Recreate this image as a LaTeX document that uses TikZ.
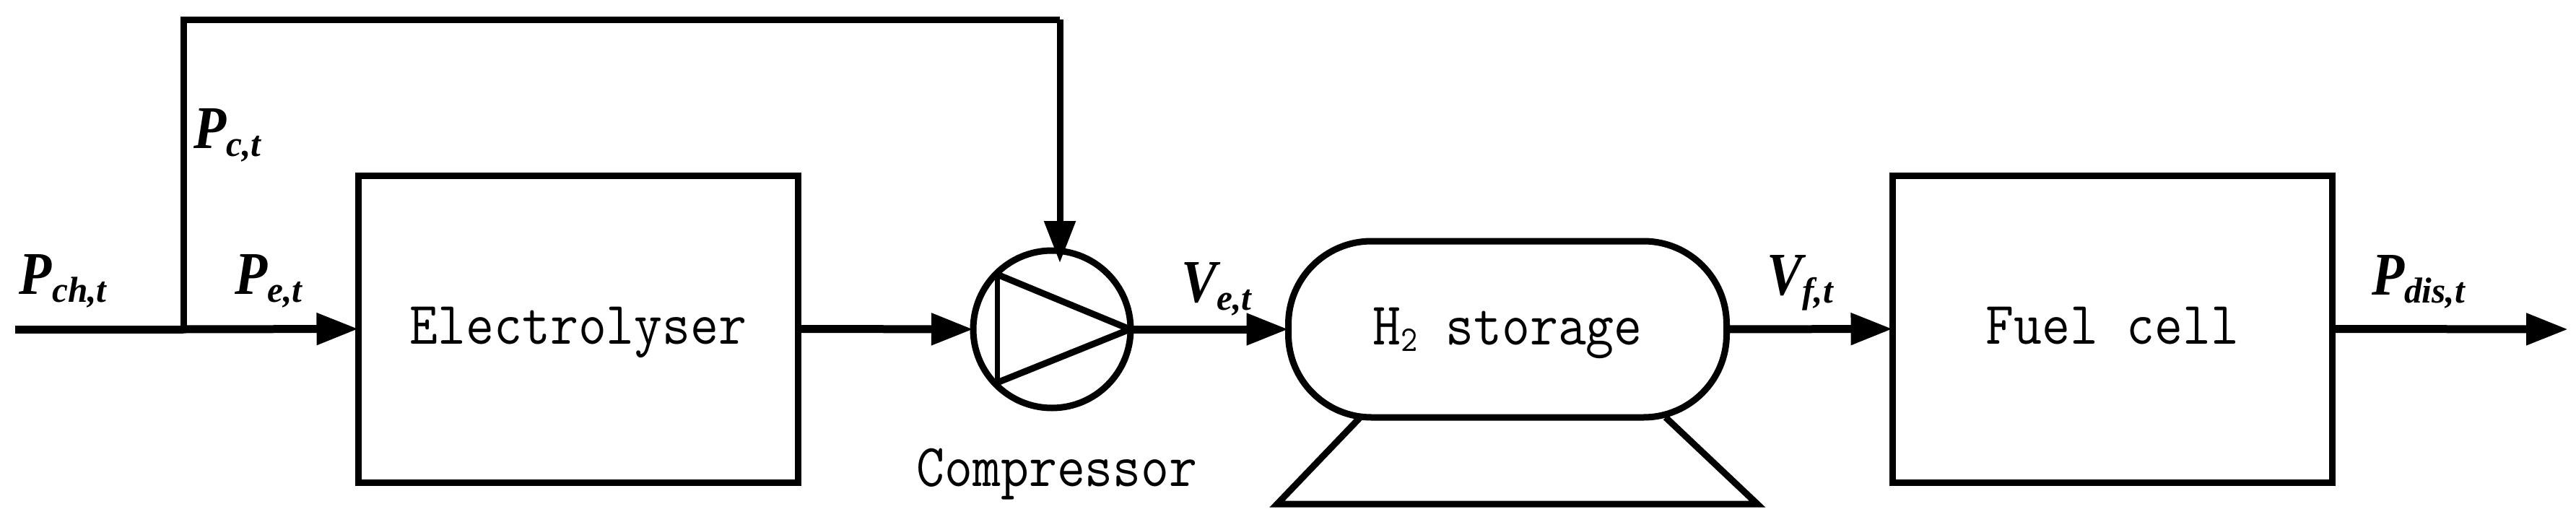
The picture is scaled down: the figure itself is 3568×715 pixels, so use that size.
\documentclass[tikz,border=0pt]{standalone}
\usepackage{fontspec}
\usepackage{graphicx}
\usetikzlibrary{arrows.meta}
\newfontfamily\symfont{Liberation Serif}
\newcommand{\monotext}[1]{\scalebox{0.90}[1]{\fontsize{84}{84}\selectfont\ttfamily #1}}
\newcommand{\flowlbl}[2]{\scalebox{0.88}[1]{\symfont\bfseries\itshape\fontsize{84}{84}\selectfont #1\raisebox{-11pt}{\scalebox{1.12}[1]{\fontsize{50}{50}\selectfont #2}}}}
\tikzset{
  x=1pt,y=-1pt,
  block/.style={draw,line width=9pt,outer sep=0pt,inner sep=0pt,minimum width=609pt,minimum height=425pt,text height=60pt,text depth=18pt,align=center},
  tank/.style={draw,line width=9pt,outer sep=0pt,inner sep=0pt,minimum width=607pt,minimum height=244pt,rounded corners=115pt,text height=60pt,text depth=18pt},
  pump/.style={draw,circle,line width=9pt,outer sep=0pt,inner sep=0pt,minimum size=218pt},
  flow/.style={line width=11pt,-{Triangle[length=58pt,width=42pt]}},
  wire/.style={line width=9pt},
  pipe/.style={line width=9pt,line join=miter},
  lbl/.style={anchor=base west,inner sep=0pt,outer sep=0pt},
  captext/.style={anchor=base,inner sep=0pt,outer sep=0pt}
}
\begin{document}
\begin{tikzpicture}
\useasboundingbox (0,0) rectangle (3568,715);
\fill[white] (0,0) rectangle (3568,715);
\node[block] (elec) at (801,455.5) {\monotext{Electrolyser}};
\node[block] (fuel) at (2926,455.5) {\monotext{Fuel cell}};
\node[tank] (stor) at (2088,456) {\monotext{H\raisebox{-9pt}{\fontsize{50}{50}\selectfont 2} storage}};
\node[pump] (comp) at (1457,456) {};
\node[captext] (complbl) at (1464,673) {\monotext{Compressor}};
\coordinate (src) at (21,456);
\coordinate (jun) at (254,456);
\coordinate (cup) at (254,27);
\coordinate (cdn) at (1468,27);
\coordinate (cin) at (1468,364);
\coordinate (snk) at (3557,456);
\coordinate (ta) at (1381,380);
\coordinate (tb) at (1381,530);
\coordinate (tc) at (1565,456);
\coordinate (ba) at (1884,578);
\coordinate (bb) at (1769,698);
\coordinate (bc) at (2434,698);
\coordinate (bd) at (2307,578);
\draw[line width=11pt] (src) -- (jun);
\draw[flow] (jun) -- (elec.west);
\draw[pipe] (jun) -- (cup) -- (cdn);
\draw[flow,line width=9pt] (cdn) -- (cin);
\draw[flow] (elec.east) -- (comp.west);
\draw[flow] (tc) -- (stor.west);
\draw[flow] (stor.east) -- (fuel.west);
\draw[flow] (fuel.east) -- (snk);
\draw[wire,line join=round] (ta) -- (tc) -- (tb);
\draw[line width=7pt] (ta) -- (tb);
\draw[line width=9pt,line join=miter] (ba) -- (bb) -- (bc) -- (bd);
\node[lbl] (lch) at (27,407) {\flowlbl{P}{ch,t}};
\node[lbl] (lc) at (268,205) {\flowlbl{P}{c,t}};
\node[lbl] (le) at (325,407) {\flowlbl{P}{e,t}};
\node[lbl] (lve) at (1636,418) {\flowlbl{V}{e,t}};
\node[lbl] (lvf) at (2447,408) {\flowlbl{V}{f,t}};
\node[lbl] (ld) at (3285,408) {\flowlbl{P}{dis,t}};
\end{tikzpicture}
\end{document}
